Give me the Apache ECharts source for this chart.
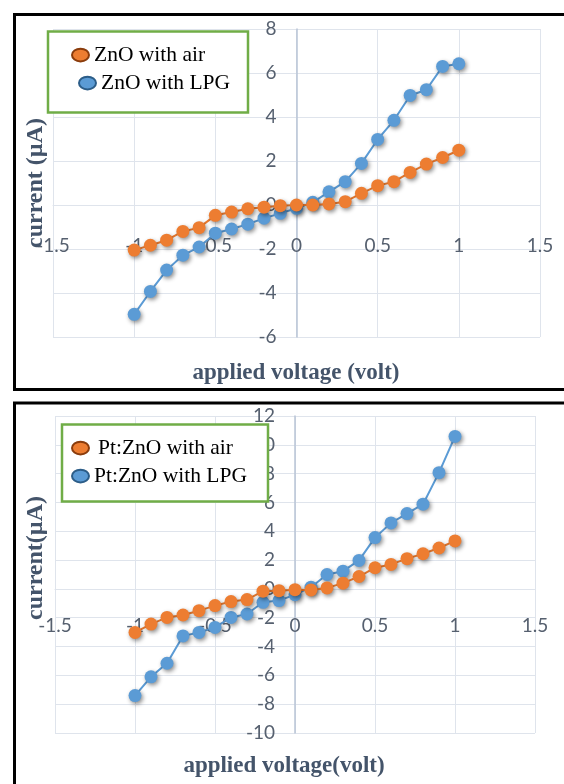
<!DOCTYPE html>
<html>
<head>
<meta charset="utf-8">
<script src="https://cdn.jsdelivr.net/npm/echarts@6/dist/echarts.min.js"></script>
<style>
html,body{margin:0;padding:0;background:#fff;}
#chart{width:564px;height:784px;}
</style>
</head>
<body>
<div id="chart"></div>
<script>
// ---- data ----
const voltage = [-1, -0.9, -0.8, -0.7, -0.6, -0.5, -0.4, -0.3, -0.2, -0.1, 0, 0.1, 0.2, 0.3, 0.4, 0.5, 0.6, 0.7, 0.8, 0.9, 1];
const znoAir = [-2.05, -1.83, -1.6, -1.2, -1.03, -0.47, -0.32, -0.17, -0.1, -0.03, 0.0, 0.0, 0.05, 0.15, 0.53, 0.88, 1.06, 1.48, 1.86, 2.16, 2.49];
const znoLPG = [-4.97, -3.93, -2.96, -2.28, -1.91, -1.28, -1.09, -0.87, -0.6, -0.38, -0.15, 0.12, 0.6, 1.06, 1.89, 2.98, 3.85, 4.98, 5.24, 6.3, 6.42];
const ptAir = [-3.02, -2.44, -1.98, -1.81, -1.51, -1.16, -0.88, -0.74, -0.16, -0.12, -0.05, -0.07, 0.07, 0.4, 0.86, 1.47, 1.7, 2.1, 2.44, 2.84, 3.33];
const ptLPG = [-7.4, -6.1, -5.16, -3.26, -3.02, -2.67, -1.98, -1.74, -0.93, -0.81, -0.4, 0.12, 1.0, 1.23, 1.98, 3.56, 4.58, 5.23, 5.88, 8.07, 10.58];
const seriesNames = ['ZnO with air', 'ZnO with LPG', 'Pt:ZnO with air', 'Pt:ZnO with LPG'];
const xTitles = ['applied voltage (volt)', 'applied voltage(volt)'];
const yTitles = ['current (µA)', 'current(µA)'];

const ORANGE = '#ED7D31', BLUE = '#5B9BD5';
const tickColor = '#56606f';
const tickFont = 'Lato';
const serif = 'Liberation Serif';
const gridColor = '#dfe4ec';

const grids = [
  {left:53, top:29, width:487, height:308},
  {left:55, top:416, width:480, height:317}
];
const xRange = [-1.5, 1.5];
const yRanges = [[-6, 8], [-10, 12]];

function pairs(ys){ return voltage.map((v,i)=>[v, ys[i]]); }

// axes are shifted inward so that they cross at the origin (Excel style)
function xAxisCfg(gi, margin){
  const g = grids[gi], r = yRanges[gi];
  const off = -(0 - r[0]) / (r[1] - r[0]) * g.height;
  return {
    type:'value', gridIndex:gi, min:xRange[0], max:xRange[1], interval:0.5,
    position:'bottom', offset:off,
    axisLine:{show:true, onZero:false, lineStyle:{color:gridColor, width:1}},
    axisTick:{show:false},
    axisLabel:{margin:margin, color:tickColor, fontFamily:tickFont, fontSize:19},
    splitLine:{show:true, lineStyle:{color:gridColor, width:1}}
  };
}
function yAxisCfg(gi){
  const g = grids[gi], r = yRanges[gi];
  const off = -(0 - xRange[0]) / (xRange[1] - xRange[0]) * g.width;
  return {
    type:'value', gridIndex:gi, min:r[0], max:r[1], interval:2,
    position:'left', offset:off,
    axisLine:{show:true, onZero:false, lineStyle:{color:'#b9c4d6', width:1.5}},
    axisTick:{show:false},
    axisLabel:{margin:20, color:tickColor, fontFamily:tickFont, fontSize:19},
    splitLine:{show:true, lineStyle:{color:gridColor, width:1}}
  };
}
function lineSeries(name, ys, color, gi, z){
  return {
    type:'line', name:name, data:pairs(ys), xAxisIndex:gi, yAxisIndex:gi,
    symbol:'circle', symbolSize:13, z:z,
    lineStyle:{color:color, width:2},
    itemStyle:{color:color, shadowBlur:4, shadowColor:'rgba(0,0,0,0.45)', shadowOffsetX:1.5, shadowOffsetY:2},
    emphasis:{disabled:true}, animation:false
  };
}
const ellipse = 'path://M0,6 A8,6 0 1,1 16,6 A8,6 0 1,1 0,6 Z';
function legendCfg(name, color, border, left, top, padLeft){
  return {
    left:left, top:top, padding:0, orient:'vertical', selectedMode:false, z:60,
    itemWidth:17, itemHeight:13, itemGap:0,
    textStyle:{fontFamily:serif, fontSize:21.5, color:'#000', lineHeight:22, padding:[0,0,0,padLeft]},
    data:[{name:name, icon:ellipse, itemStyle:{color:color, borderColor:border, borderWidth:2, shadowBlur:0}}]
  };
}

const chart = echarts.init(document.getElementById('chart'), null, {renderer:'canvas'});
chart.setOption({
  animation:false,
  backgroundColor:'#fff',
  grid:grids,
  xAxis:[xAxisCfg(0, 31), xAxisCfg(1, 27)],
  yAxis:[yAxisCfg(0), yAxisCfg(1)],
  legend:[
    legendCfg(seriesNames[0], ORANGE, '#8a3c0c', 71, 44, 0),
    legendCfg(seriesNames[1], BLUE, '#2c5d88', 78, 72, 0),
    legendCfg(seriesNames[2], ORANGE, '#8a3c0c', 71, 437, 4),
    legendCfg(seriesNames[3], BLUE, '#2c5d88', 71, 465, 0)
  ],
  series:[
    lineSeries(seriesNames[1], znoLPG, BLUE, 0, 2),
    lineSeries(seriesNames[0], znoAir, ORANGE, 0, 3),
    lineSeries(seriesNames[3], ptLPG, BLUE, 1, 2),
    lineSeries(seriesNames[2], ptAir, ORANGE, 1, 3)
  ],
  graphic:[
    {type:'rect', z:50, shape:{x:14.5, y:14.5, width:600, height:375}, style:{fill:'none', stroke:'#000', lineWidth:3}},
    {type:'rect', z:50, shape:{x:14.5, y:403, width:600, height:500}, style:{fill:'none', stroke:'#000', lineWidth:3}},
    {type:'rect', z:55, shape:{x:48, y:31.5, width:200, height:81}, style:{fill:'#fff', stroke:'#70AD47', lineWidth:2.5}},
    {type:'rect', z:55, shape:{x:62, y:424.5, width:206, height:77}, style:{fill:'#fff', stroke:'#70AD47', lineWidth:2.5}},
    {type:'text', z:40, x:296, y:373, style:{text:xTitles[0], textAlign:'center', textVerticalAlign:'middle', font:'bold 23px "Liberation Serif"', fill:'#44546A'}},
    {type:'text', z:40, x:284, y:766, style:{text:xTitles[1], textAlign:'center', textVerticalAlign:'middle', font:'bold 23px "Liberation Serif"', fill:'#44546A'}},
    {type:'text', z:40, x:36, y:183, rotation:Math.PI/2, style:{text:yTitles[0], textAlign:'center', textVerticalAlign:'middle', font:'bold 24px "Liberation Serif"', fill:'#44546A'}},
    {type:'text', z:40, x:36, y:558, rotation:Math.PI/2, style:{text:yTitles[1], textAlign:'center', textVerticalAlign:'middle', font:'bold 24px "Liberation Serif"', fill:'#44546A'}}
  ]
});
</script>
</body>
</html>
